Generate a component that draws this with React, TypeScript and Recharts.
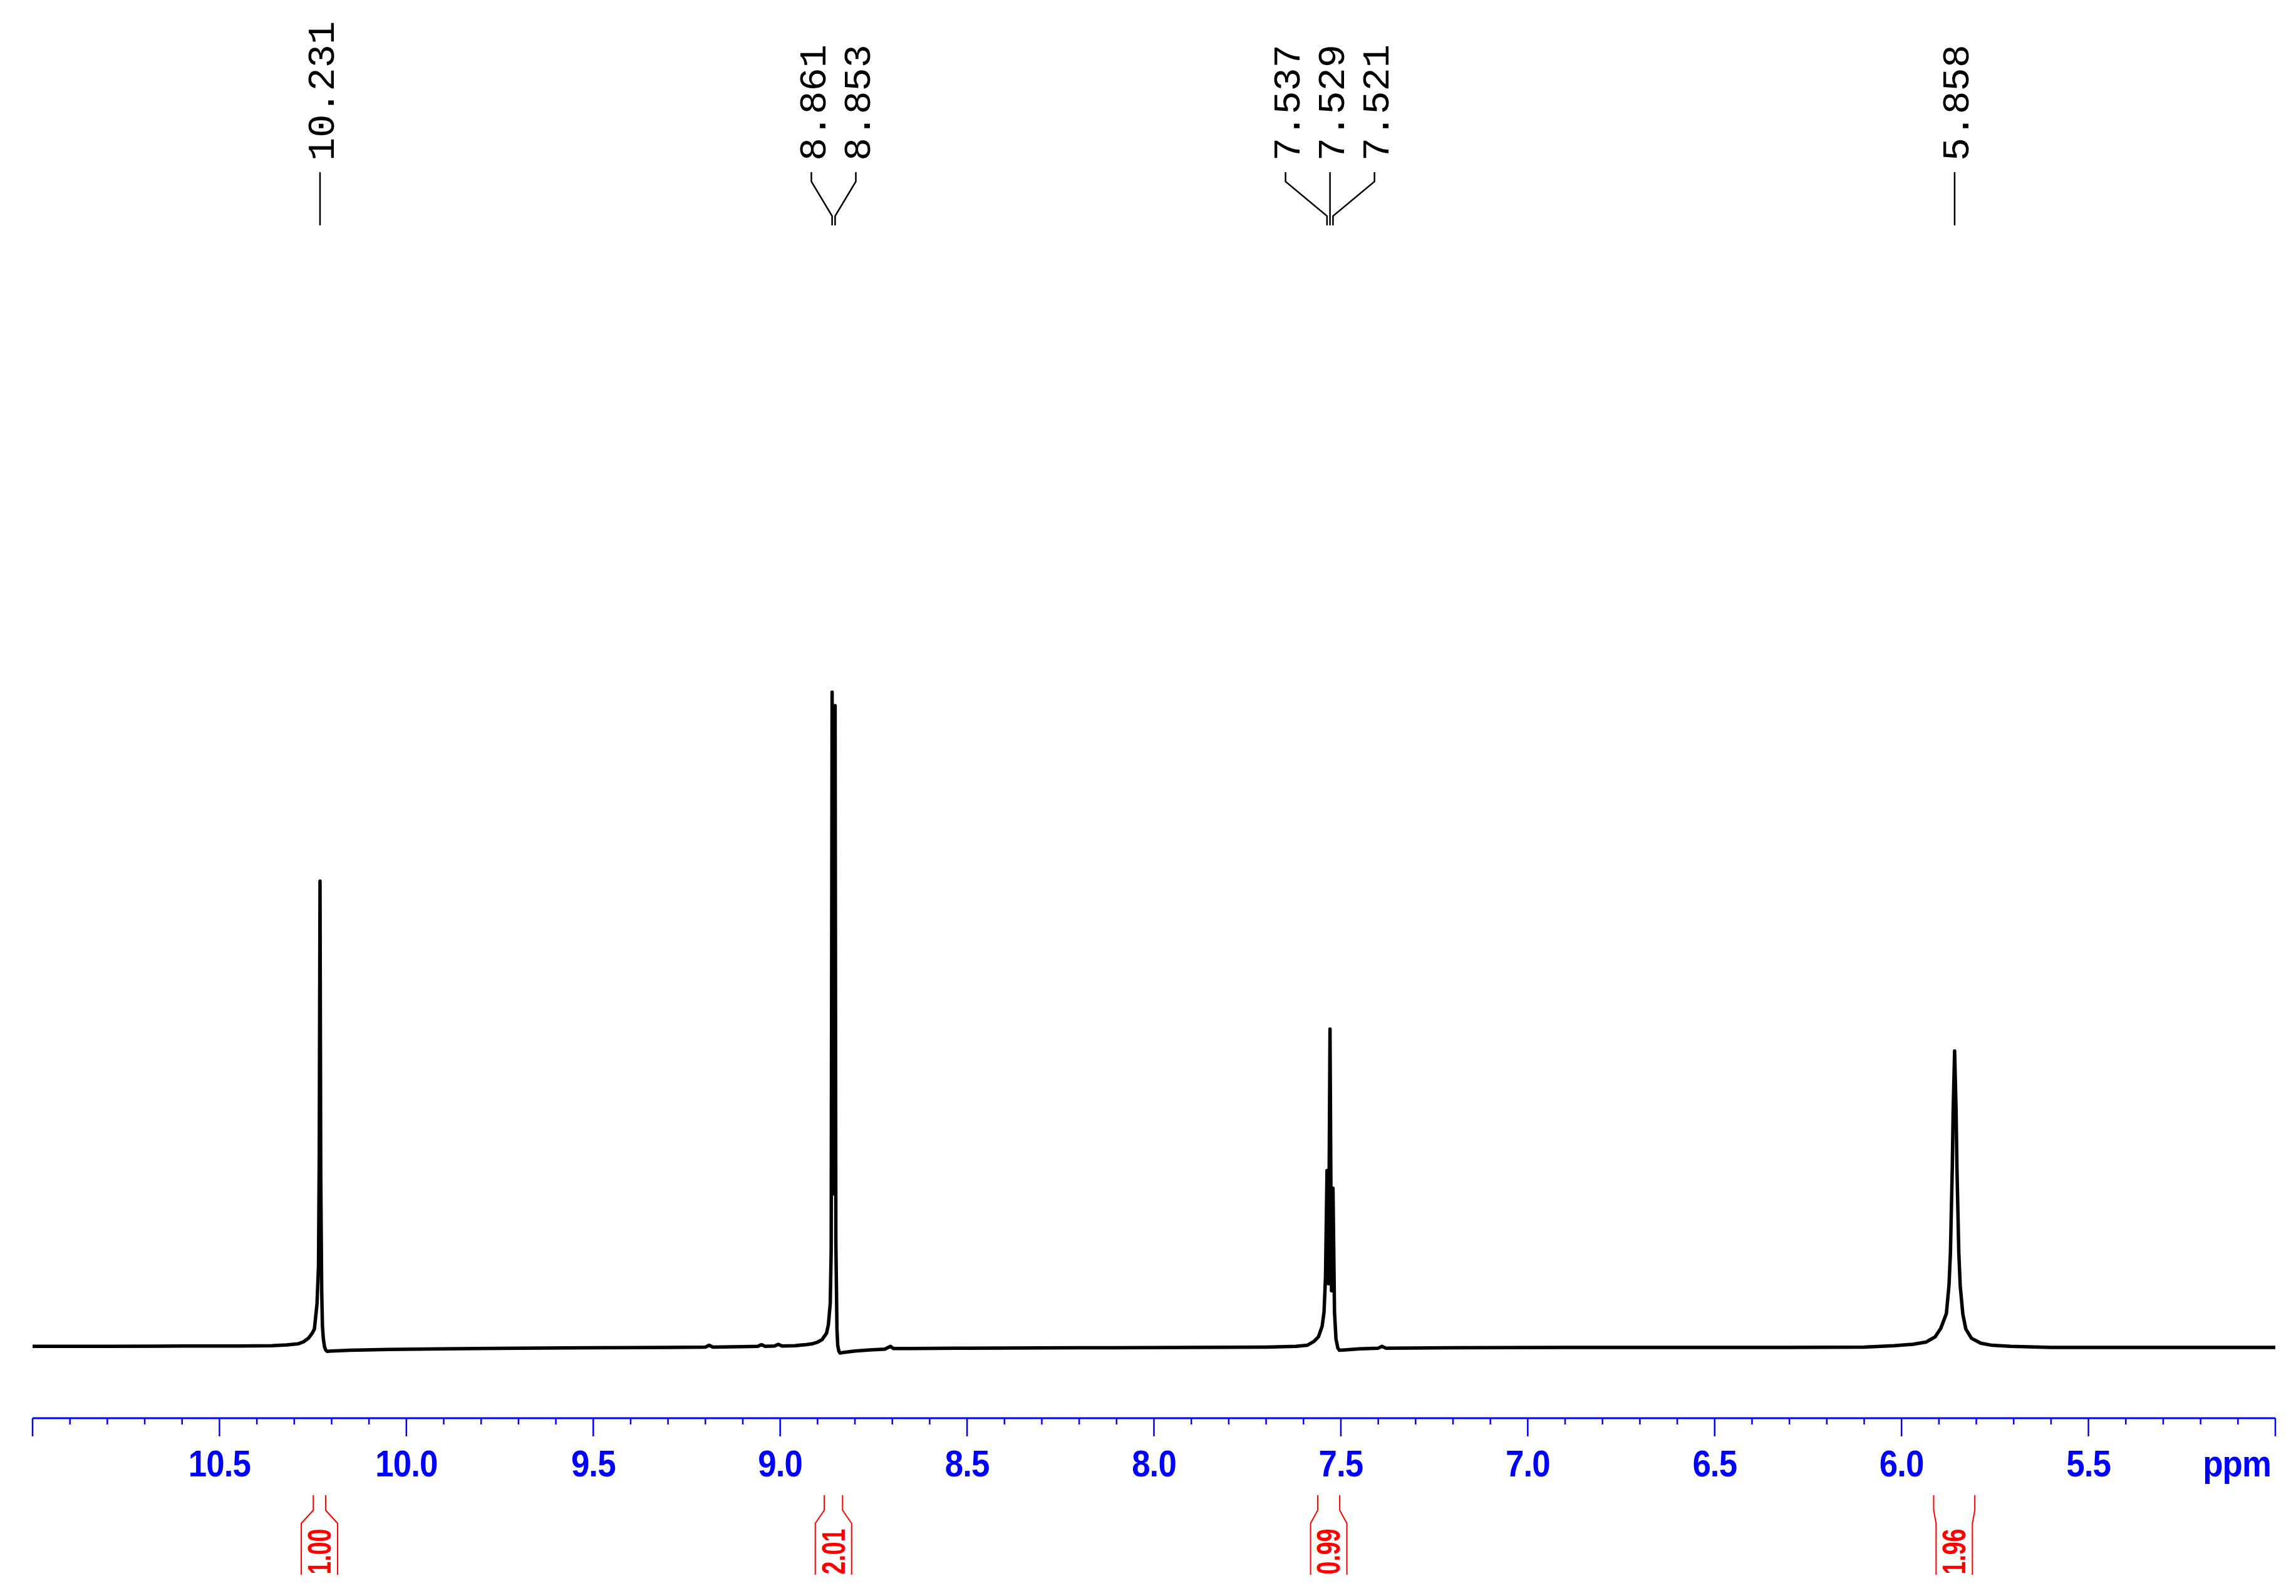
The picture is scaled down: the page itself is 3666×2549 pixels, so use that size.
import React from "react";
import {
  ComposedChart,
  Line,
  Scatter,
  XAxis,
  YAxis,
  ReferenceArea,
} from "recharts";

// ---------------- data ----------------
const spectrumPpm = [
  11.0, 10.8, 10.6, 10.45, 10.36, 10.32, 10.29, 10.275, 10.262, 10.252, 10.246,
  10.239, 10.235, 10.233, 10.231, 10.229, 10.2265, 10.2245, 10.222, 10.219,
  10.216, 10.212, 10.2, 10.15, 10.05, 9.9, 9.7, 9.5, 9.3, 9.2, 9.19, 9.18, 9.1,
  9.06, 9.05, 9.04, 9.015, 9.005, 8.995, 8.96, 8.93, 8.915, 8.9, 8.888, 8.876,
  8.871, 8.866, 8.8635, 8.861, 8.857, 8.853, 8.851, 8.848, 8.846, 8.843, 8.84,
  8.83, 8.8, 8.76, 8.72, 8.705, 8.697, 8.65, 8.5, 8.2, 7.9, 7.7, 7.62, 7.59,
  7.572, 7.56, 7.55, 7.545, 7.541, 7.537, 7.533, 7.529, 7.525, 7.521, 7.517,
  7.513, 7.508, 7.504, 7.49, 7.45, 7.4, 7.39, 7.38, 7.2, 6.9, 6.6, 6.3, 6.1, 6.02,
  5.97, 5.935, 5.91, 5.895, 5.88, 5.873, 5.8692, 5.8642, 5.8619, 5.858, 5.8541,
  5.8518, 5.8468, 5.843, 5.836, 5.828, 5.813, 5.788, 5.758, 5.708, 5.6, 5.3, 5.0,
];
const spectrumIntensity = [
  0.15, 0.15, 0.2, 0.2, 0.25, 0.35, 0.5, 0.8, 1.3, 2.0, 2.6,
  6.2, 11.6, 28, 65.9, 24, 8, 3, 1.2, 0.1,
  -0.35, -0.55, -0.5, -0.4, -0.28, -0.2, -0.12, -0.05, 0.0, 0.05, 0.3, 0.05, 0.1,
  0.15, 0.4, 0.15, 0.2, 0.45, 0.2, 0.25, 0.4, 0.5, 0.75, 1.1, 2.0,
  3.2, 6.2, 13.7, 92.6, 21.7, 90.7, 15, 2.5, 0.3, -0.5, -0.8,
  -0.7, -0.5, -0.35, -0.25, 0.15, -0.15, -0.15, -0.1, -0.05, 0.0, 0.05, 0.15, 0.3,
  0.85, 1.5, 3.0, 5.0, 10, 25, 9, 45, 8, 22.5, 5,
  1.2, -0.1, -0.4, -0.35, -0.2, -0.1, 0.15, -0.1, -0.05, 0.0, 0.0, 0.0, 0.05, 0.25,
  0.45, 0.75, 1.5, 2.7, 4.8, 8.8, 13.4, 25.5, 33.5, 41.9, 33.5,
  25.5, 13.4, 8.7, 4.7, 2.6, 1.3, 0.6, 0.3, 0.15, 0.0, 0.0, 0.0,
];

const axisTicks = [
  11.0, 10.9, 10.8, 10.7, 10.6, 10.5, 10.4, 10.3, 10.2, 10.1, 10.0, 9.9, 9.8, 9.7,
  9.6, 9.5, 9.4, 9.3, 9.2, 9.1, 9.0, 8.9, 8.8, 8.7, 8.6, 8.5, 8.4, 8.3, 8.2, 8.1,
  8.0, 7.9, 7.8, 7.7, 7.6, 7.5, 7.4, 7.3, 7.2, 7.1, 7.0, 6.9, 6.8, 6.7, 6.6, 6.5,
  6.4, 6.3, 6.2, 6.1, 6.0, 5.9, 5.8, 5.7, 5.6, 5.5, 5.4, 5.3, 5.2, 5.1, 5.0,
];
const tickLabels = ["10.5", "10.0", "9.5", "9.0", "8.5", "8.0", "7.5", "7.0", "6.5", "6.0", "5.5"];

const peakGroups = [[10.231], [8.861, 8.853], [7.537, 7.529, 7.521], [5.858]];
const peakLabels = [["10.231"], ["8.861", "8.853"], ["7.537", "7.529", "7.521"], ["5.858"]];

const integralFrom = [10.249, 8.882, 7.562, 5.914];
const integralTo = [10.216, 8.833, 7.503, 5.804];
const integralValues = ["1.00", "2.01", "0.99", "1.96"];

// ---------------- layout ----------------
const W = 3666;
const H = 2549;
const PLOT_LEFT = 52;
const PLOT_RIGHT = 3633;
const AXIS_Y = 2265;
const PLOT_TOP = 231;
const X_MIN = 5;
const X_MAX = 11;
const PX_PER_PPM = (PLOT_RIGHT - PLOT_LEFT) / (X_MAX - X_MIN);

const spectrum = spectrumPpm.map((p, i) => ({ ppm: p, intensity: spectrumIntensity[i] }));

const labelPoints = peakGroups.flatMap((g, gi) => {
  const mean = g.reduce((a, b) => a + b, 0) / g.length;
  return g.map((p, i) => ({
    ppm: p,
    intensity: 0,
    label: peakLabels[gi][i],
    i,
    n: g.length,
    mean,
  }));
});

const BLUE = "#0000ff";
const RED = "#ff0000";
const AXIS_FONT = "'Liberation Sans', Arial, Helvetica, sans-serif";

const AxisTick = (props: any) => {
  const { x, y, payload } = props;
  const v = payload.value as number;
  const major = Math.abs(v * 2 - Math.round(v * 2)) < 1e-6;
  const txt = v.toFixed(1);
  const showLabel = tickLabels.includes(txt);
  return (
    <g>
      <line x1={x} y1={y} x2={x} y2={y + (major ? 29 : 10)} stroke={BLUE} strokeWidth={2.5} />
      {showLabel && (
        <text
          transform={`translate(${x}, ${y + 93}) scale(0.88, 1)`}
          x={0}
          y={0}
          textAnchor="middle"
          fill={BLUE}
          fontSize={60}
          fontWeight="bold"
          fontFamily={AXIS_FONT}
          letterSpacing={-1}
        >
          {txt}
        </text>
      )}
    </g>
  );
};

const PeakLabelShape = (props: any) => {
  const { cx, payload } = props;
  if (cx == null) return <g />;
  const centerX = cx + (payload.ppm - payload.mean) * PX_PER_PPM;
  const textX = centerX + (payload.i - (payload.n - 1) / 2) * 71;
  const fs = 62;
  return (
    <g>
      <text
        transform={`translate(${textX + 22}, 257) rotate(-90)`}
        x={0}
        y={0}
        textAnchor="start"
        fontSize={fs}
        fontFamily="'Liberation Mono', 'DejaVu Sans Mono', monospace"
        fill="#000"
      >
        {payload.label}
      </text>
      <polyline
        points={`${textX},275 ${textX},290 ${cx},345 ${cx},360`}
        fill="none"
        stroke="#000"
        strokeWidth={2.5}
      />
    </g>
  );
};

const makeIntegralShape = (value: string) => (props: any) => {
  const { x, width } = props;
  const x1 = x;
  const x2 = x + width;
  const c = x + width / 2;
  const half = 29;
  const d = `M ${x1} 2388 L ${x1} 2412 L ${c - half} 2433 L ${c - half} 2515 M ${x2} 2388 L ${x2} 2412 L ${c + half} 2433 L ${c + half} 2515`;
  return (
    <g>
      <path d={d} fill="none" stroke={RED} strokeWidth={2} />
      <text
        transform={`translate(${c}, 2478) rotate(-90) scale(0.72, 1)`}
        x={0}
        y={0}
        textAnchor="middle"
        dominantBaseline="central"
        fontSize={52}
        fontWeight="bold"
        fontFamily={AXIS_FONT}
        fill={RED}
      >
        {value}
      </text>
    </g>
  );
};

const PpmLabel = (props: any) => {
  const vb = props.viewBox || {};
  return (
    <text
      transform={`translate(${vb.x + vb.width - 7}, ${AXIS_Y + 93}) scale(0.88, 1)`}
      x={0}
      y={0}
      textAnchor="end"
      fill={BLUE}
      fontSize={60}
      fontWeight="bold"
      fontFamily={AXIS_FONT}
      letterSpacing={-1}
    >
      ppm
    </text>
  );
};

export default function App() {
  return (
    <div style={{ position: "absolute", left: 0, top: 0, background: "#fff" }}>
      <ComposedChart
        width={W}
        height={H}
        margin={{ top: PLOT_TOP, right: W - PLOT_RIGHT, bottom: H - AXIS_Y - 30, left: PLOT_LEFT }}
      >
        <XAxis
          dataKey="ppm"
          type="number"
          domain={[X_MIN, X_MAX]}
          reversed
          ticks={axisTicks}
          interval={0}
          tickLine={false}
          tickSize={0}
          tickMargin={0}
          height={30}
          axisLine={{ stroke: BLUE, strokeWidth: 3 }}
          tick={<AxisTick />}
          label={<PpmLabel />}
        />
        <YAxis dataKey="intensity" type="number" domain={[-10, 170]} hide />
        {integralValues.map((v, i) => (
          <ReferenceArea
            key={v + i}
            x1={integralFrom[i]}
            x2={integralTo[i]}
            shape={makeIntegralShape(v)}
            ifOverflow="visible"
          />
        ))}
        <Line
          data={spectrum}
          dataKey="intensity"
          type="linear"
          stroke="#000"
          strokeWidth={5.5}
          strokeLinejoin="round"
          dot={false}
          activeDot={false}
          isAnimationActive={false}
        />
        <Scatter
          data={labelPoints}
          dataKey="intensity"
          shape={<PeakLabelShape />}
          isAnimationActive={false}
        />
      </ComposedChart>
    </div>
  );
}
